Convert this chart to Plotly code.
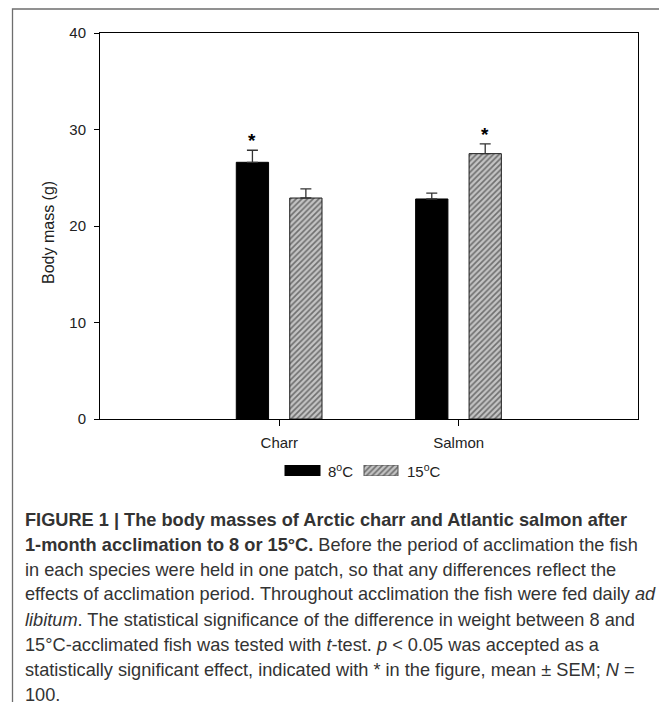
import plotly.graph_objects as go

# ---- data ----
categories = ["Charr", "Salmon"]
series_names = ["8<sup>o</sup>C", "15<sup>o</sup>C"]
mass_8C = [26.6, 22.8]
sem_8C = [1.25, 0.6]
mass_15C = [22.9, 27.5]
sem_15C = [0.95, 1.0]
significant_8C = [True, False]
significant_15C = [False, True]
y_ticks = [0, 10, 20, 30, 40]

caption_lines = [
    "<b>FIGURE 1 | The body masses of Arctic charr and Atlantic salmon after</b>",
    "<b>1-month acclimation to 8 or 15°C.</b> Before the period of acclimation the fish",
    "in each species were held in one patch, so that any differences reflect the",
    "effects of acclimation period. Throughout acclimation the fish were fed daily <i>ad</i>",
    "<i>libitum</i>. The statistical significance of the difference in weight between 8 and",
    "15°C-acclimated fish was tested with <i>t</i>-test. <i>p</i> &lt; 0.05 was accepted as a",
    "statistically significant effect, indicated with * in the figure, mean ± SEM; <i>N</i> =",
    "100.",
]

# ---- geometry ----
# the page has an 8px body margin, so the figure is sized to fit the 667x710 window
PAGE_OFF = 8
W, H = 667 - PAGE_OFF, 710 - 2 * PAGE_OFF
L, R, T, B = 92, 29, 25, 222
PW = W - L - R
PH = H - T - B
PLOT_TOP_PAGE = 33
PLOT_BOTTOM_PAGE = 419


def px_x(page_x):
    return (page_x - PAGE_OFF - L) / PW


def px_y(page_y):
    return (H - B - (page_y - PAGE_OFF)) / PH


FONT = "Liberation Sans, Arial, sans-serif"
BAR_W = 0.18
OFF_8 = -0.24
OFF_15 = 0.058
HATCH = dict(shape="/", fgcolor="#1a1a1a", bgcolor="#c4c4c4", size=4, solidity=0.42)

fig = go.Figure()

fig.add_trace(go.Bar(
    x=categories, y=mass_8C, width=[BAR_W] * 2, offset=OFF_8,
    marker=dict(color="black", line=dict(color="black", width=1)),
    error_y=dict(type="data", symmetric=False, array=sem_8C, arrayminus=[0] * 2,
                 color="#333333", thickness=1.3, width=5.5),
    showlegend=False, name="8°C",
))
fig.add_trace(go.Bar(
    x=categories, y=mass_15C, width=[BAR_W] * 2, offset=OFF_15,
    marker=dict(color="#c4c4c4", pattern=HATCH, line=dict(color="#1e1e1e", width=1)),
    error_y=dict(type="data", symmetric=False, array=sem_15C, arrayminus=[0] * 2,
                 color="#333333", thickness=1.3, width=5.5),
    showlegend=False, name="15°C",
))

# legend swatches on a hidden helper axis (page-pixel units)
fig.add_trace(go.Bar(
    x=[302.5], y=[1], width=[35], xaxis="x2", yaxis="y2",
    marker=dict(color="black", line=dict(color="black", width=1)),
    showlegend=False, hoverinfo="skip",
))
fig.add_trace(go.Bar(
    x=[381], y=[1], width=[34], xaxis="x2", yaxis="y2",
    marker=dict(color="#c4c4c4", pattern=HATCH, line=dict(color="#555555", width=1)),
    showlegend=False, hoverinfo="skip",
))

annotations = []
# significance stars
for i, cat in enumerate(categories):
    for sig, vals, sems, off in ((significant_8C, mass_8C, sem_8C, OFF_8),
                                 (significant_15C, mass_15C, sem_15C, OFF_15)):
        if sig[i]:
            annotations.append(dict(
                x=i + off + BAR_W / 2, y=vals[i] + sems[i], xref="x", yref="y",
                text="<b>*</b>", showarrow=False, yanchor="bottom", yshift=-3,
                font=dict(family=FONT, size=19, color="black"),
            ))

# y-axis title
annotations.append(dict(
    x=px_x(48), y=px_y(233), xref="paper", yref="paper",
    text="Body mass (g)", textangle=-90, showarrow=False,
    xanchor="center", yanchor="middle",
    font=dict(family=FONT, size=16, color="#222222"),
))

# legend labels
annotations.append(dict(x=px_x(326), y=px_y(470.5), xref="paper", yref="paper",
                        text=series_names[0], showarrow=False, xanchor="left", yanchor="middle",
                        font=dict(family=FONT, size=15, color="#222222")))
annotations.append(dict(x=px_x(405), y=px_y(470.5), xref="paper", yref="paper",
                        text=series_names[1], showarrow=False, xanchor="left", yanchor="middle",
                        font=dict(family=FONT, size=15, color="#222222")))

# caption
for k, line in enumerate(caption_lines):
    annotations.append(dict(
        x=px_x(23), y=px_y(519.5 + 25.0 * k), xref="paper", yref="paper",
        text=line, showarrow=False, xanchor="left", yanchor="middle", align="left",
        font=dict(family=FONT, size=18.2, color="#333333"),
    ))

shapes = [dict(
    type="rect", xref="paper", yref="paper",
    x0=px_x(12.5), x1=px_x(664.5), y0=px_y(730), y1=px_y(9),
    line=dict(color="#6e6e6e", width=1.3), fillcolor="rgba(0,0,0,0)", layer="below",
)]

fig.update_layout(
    width=W, height=H,
    margin=dict(l=L, r=R, t=T, b=B),
    paper_bgcolor="white", plot_bgcolor="white",
    barmode="overlay",
    font=dict(family=FONT, size=15, color="#222222"),
    annotations=annotations,
    shapes=shapes,
    xaxis=dict(
        type="category", range=[-1, 2], domain=[0, 1], anchor="y",
        showline=True, linecolor="black", linewidth=1, mirror=True,
        ticks="outside", ticklen=6, tickcolor="black", tickwidth=1,
        tickfont=dict(family=FONT, size=15, color="#222222"),
        ticklabelstandoff=4, showgrid=False, zeroline=False,
    ),
    yaxis=dict(
        range=[0, 40], domain=[px_y(PLOT_BOTTOM_PAGE), 1], anchor="x",
        tickvals=y_ticks,
        showline=True, linecolor="black", linewidth=1, mirror=True,
        ticks="outside", ticklen=5, tickcolor="black", tickwidth=1,
        tickfont=dict(family=FONT, size=15, color="#222222"),
        ticklabelstandoff=5, showgrid=False, zeroline=False,
    ),
    xaxis2=dict(range=[PAGE_OFF + L, PAGE_OFF + W - R], domain=[0, 1], anchor="y2",
                visible=False, fixedrange=True),
    yaxis2=dict(range=[0, 1], domain=[px_y(476), px_y(465)], anchor="x2", visible=False,
                fixedrange=True),
)

fig.write_html("out.html")
